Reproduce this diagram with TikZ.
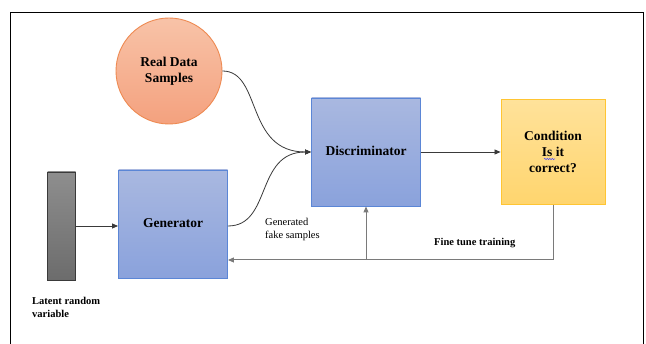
\documentclass[tikz,border=0pt]{standalone}
\usepackage{fontspec}
\setmainfont{Liberation Serif}
\usetikzlibrary{arrows.meta,decorations.pathmorphing}

\definecolor{bluetop}{HTML}{A9B8E0}
\definecolor{bluebot}{HTML}{8AA2DC}
\definecolor{blueline}{HTML}{5B86D6}
\definecolor{goldtop}{HTML}{FFE29A}
\definecolor{goldbot}{HTML}{FFD56E}
\definecolor{goldline}{HTML}{FFC533}
\definecolor{salmtop}{HTML}{F8C3A8}
\definecolor{salmbot}{HTML}{F4A17E}
\definecolor{salmline}{HTML}{EE8A52}
\definecolor{greytop}{HTML}{8E8E8E}
\definecolor{greybot}{HTML}{6C6C6C}
\definecolor{wire}{HTML}{3A3A3A}
\definecolor{feed}{HTML}{7A7A7A}

\tikzset{
  boxlabel/.style={font=\fontsize{13.5}{16}\selectfont\bfseries, align=center},
  smalllabel/.style={font=\fontsize{10.5}{13}\selectfont, align=left, anchor=west, inner sep=0pt},
  bluebox/.style={draw=blueline, line width=0.9pt, top color=bluetop, bottom color=bluebot,
                  minimum width=109pt, minimum height=108pt, inner sep=0pt},
  goldbox/.style={draw=goldline, line width=0.9pt, top color=goldtop, bottom color=goldbot,
                  minimum width=104pt, minimum height=105pt, inner sep=0pt},
  ball/.style={circle, draw=salmline, line width=0.9pt, top color=salmtop, bottom color=salmbot,
               minimum size=106pt, inner sep=0pt},
  bar/.style={draw=wire, line width=0.8pt, top color=greytop, bottom color=greybot,
              minimum width=28pt, minimum height=108pt, inner sep=0pt},
  flow/.style={draw=wire, line width=0.8pt, -{Triangle[length=6pt,width=5pt]}},
  feedline/.style={draw=feed, line width=1pt},
}

\begin{document}
\begin{tikzpicture}[x=1pt,y=-1pt]
\useasboundingbox (0,0) rectangle (646,344);
\fill[white] (0,0) rectangle (646,344);

% outer frame, open at the bottom
\draw[line width=0.8pt] (10.5,345) -- (10.5,12.5) -- (643,12.5) -- (643,345);

% building blocks
\node[ball] (real) at (169,71) {};
\node[boxlabel] at (169,71) {Real Data\\Samples};

\node[bluebox] (disc) at (366,152) {};
\node[boxlabel] at (366,151) {Discriminator};

\node[goldbox] (cond) at (553,152) {};
\node[boxlabel] (condtext) at (553,152) {Condition\\Is it\\correct?};

\node[bluebox] (gen) at (173,224) {};
\node[boxlabel] at (173,223) {Generator};

\node[bar] (latent) at (61.5,226) {};

% spell-check squiggle under "Is"
\draw[blue!70, line width=0.5pt, decorate, decoration={snake, amplitude=0.7pt, segment length=2.5pt}]
  (544,159) -- (555,159);

% labels
\node[smalllabel] (genlbl) at (265,229.5) {Generated\\fake samples};
\node[smalllabel, font=\fontsize{10.5}{13}\selectfont\bfseries] (finelbl) at (434,243) {Fine tune training};
\node[smalllabel, font=\fontsize{10.5}{13}\selectfont\bfseries] (latlbl) at (32,307) {Latent random\\variable};

% forward connectors
\draw[flow] (latent.east |- 0,226) -- (gen.west |- 0,226);
\draw[flow] (real.east) .. controls (262,71) and (245,152) .. (disc.west);
\draw[flow] (gen.east |- 0,226) .. controls (272,226) and (255,152) .. (disc.west);
\draw[flow] (disc.east) -- (cond.west);

% feedback path
\coordinate (fbcorner) at (cond.south |- 0,260);
\coordinate (fbjoin) at (disc.south |- 0,260);
\draw[feedline] (cond.south) -- (fbcorner) -- (fbjoin);
\draw[feedline, -{Triangle[length=6pt,width=5pt]}] (fbjoin) -- (gen.east |- 0,260);
\draw[feedline, -{Triangle[length=6pt,width=5pt]}] (fbjoin) -- (disc.south);
\end{tikzpicture}
\end{document}
